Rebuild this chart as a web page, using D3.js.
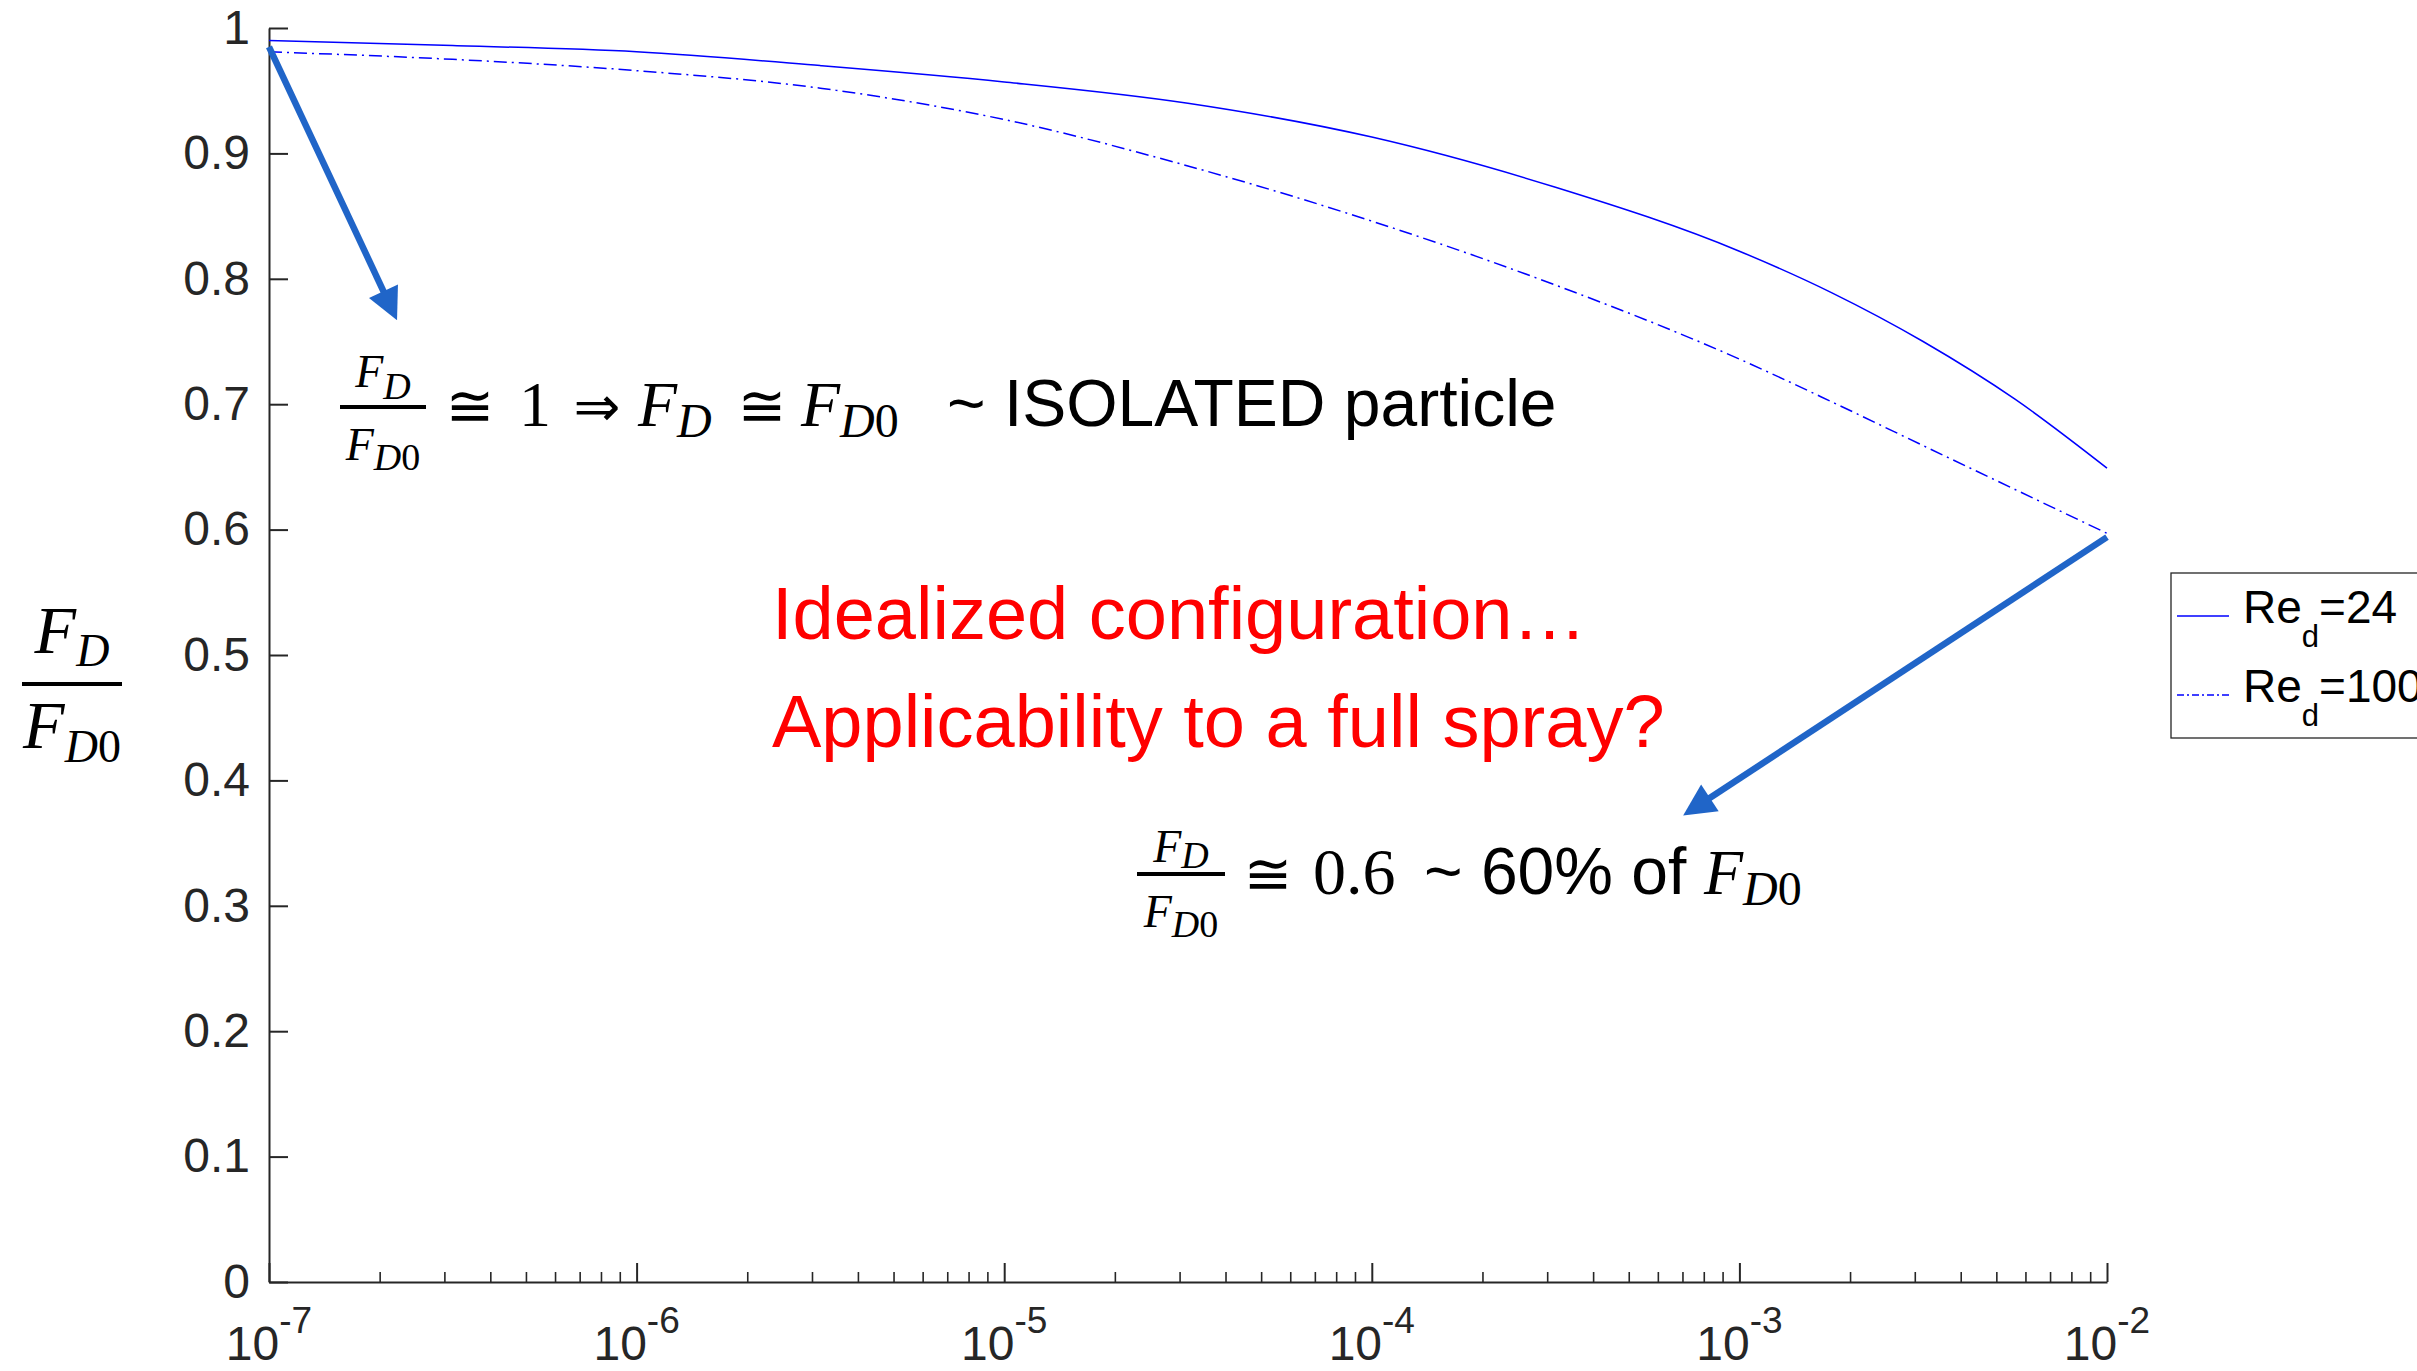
<!DOCTYPE html>
<html>
<head>
<meta charset="utf-8">
<script src="https://cdn.jsdelivr.net/npm/d3@7"></script>
<style>
  html, body { margin: 0; padding: 0; background: #ffffff; overflow: hidden; }
  svg { display: block; }
</style>
</head>
<body>
<svg id="chart" width="2417" height="1371"></svg>
<script>
// ---- data -------------------------------------------------------------
// volume fraction (x) and drag ratio F_D / F_D0 for two droplet Reynolds numbers
const volumeFraction = [1e-7, 3.16e-7, 1e-6, 3.16e-6, 1e-5, 3.16e-5, 1e-4, 3.16e-4, 1e-3, 1.78e-3, 3.16e-3, 5.62e-3, 1e-2];
const dragRatioRe24  = [0.990, 0.986, 0.981, 0.970, 0.957, 0.940, 0.913, 0.873, 0.822, 0.789, 0.750, 0.704, 0.649];
const dragRatioRe100 = [0.981, 0.975, 0.966, 0.952, 0.927, 0.890, 0.846, 0.795, 0.736, 0.702, 0.667, 0.632, 0.597];
const seriesLabels = ["24", "100"];

const yTickValues = [0, 0.1, 0.2, 0.3, 0.4, 0.5, 0.6, 0.7, 0.8, 0.9, 1];
const yTickLabels = ["0", "0.1", "0.2", "0.3", "0.4", "0.5", "0.6", "0.7", "0.8", "0.9", "1"];
const xDecades = [1e-7, 1e-6, 1e-5, 1e-4, 1e-3, 1e-2];
const xDecadeExponents = ["-7", "-6", "-5", "-4", "-3", "-2"];

// annotation arrows: [start, tip] in data coordinates
const arrowStarts = [[1e-7, 0.985], [1e-2, 0.594]];
const arrowTips   = [[2.23e-7, 0.767], [7.03e-4, 0.372]];

// ---- setup ------------------------------------------------------------
const svg = d3.select("#chart");
const axisColor = "#262626";
const lineBlue = "#0000ff";
const arrowBlue = "#2065c8";
const sans = "'Liberation Sans', Arial, sans-serif";
const serif = "'Liberation Serif', 'Times New Roman', serif";
const symbolFont = "'DejaVu Sans', sans-serif";

const x = d3.scaleLog().domain([1e-7, 1e-2]).range([269, 2107]);
const y = d3.scaleLinear().domain([0, 1]).range([1282, 28]);

// ---- axes ---------------------------------------------------------------
const yAxis = svg.append("g")
  .attr("transform", `translate(${x.range()[0]},0)`)
  .call(d3.axisLeft(y).tickValues(yTickValues)
    .tickFormat((d, i) => yTickLabels[i])
    .tickSizeInner(-19).tickSizeOuter(0).tickPadding(19));
yAxis.attr("font-family", sans).attr("font-size", 48);
yAxis.select(".domain").attr("stroke", axisColor).attr("stroke-width", 2);
yAxis.selectAll(".tick line").attr("stroke", axisColor).attr("stroke-width", 2);
yAxis.selectAll(".tick text").attr("fill", axisColor);

const minorTicks = [];
xDecades.slice(0, -1).forEach(d => { for (let k = 2; k <= 9; k++) minorTicks.push(d * k); });

const xMinor = svg.append("g")
  .attr("transform", `translate(0,${y.range()[0]})`)
  .call(d3.axisBottom(x).tickValues(minorTicks).tickFormat("")
    .tickSizeInner(-10).tickSizeOuter(0));
xMinor.select(".domain").remove();
xMinor.selectAll(".tick line").attr("stroke", axisColor).attr("stroke-width", 1.6);

const xAxis = svg.append("g")
  .attr("transform", `translate(0,${y.range()[0]})`)
  .call(d3.axisBottom(x).tickValues(xDecades).tickFormat("")
    .tickSizeInner(-19).tickSizeOuter(0));
xAxis.select(".domain").attr("stroke", axisColor).attr("stroke-width", 2);
xAxis.selectAll(".tick line").attr("stroke", axisColor).attr("stroke-width", 2);
xAxis.selectAll(".tick text").remove();

// power-of-ten labels: 10 with a raised exponent
const xLabels = svg.append("g").attr("font-family", sans).attr("fill", axisColor);
xDecades.forEach((d, i) => {
  const t = xLabels.append("text")
    .attr("x", x(d)).attr("y", y.range()[0] + 78)
    .attr("text-anchor", "middle");
  t.append("tspan").attr("font-size", 48).text("10");
  t.append("tspan").attr("font-size", 37).attr("dy", -27).text(xDecadeExponents[i]);
});

// ---- curves -----------------------------------------------------------
const line = d3.line()
  .x(d => x(d[0])).y(d => y(d[1]))
  .curve(d3.curveMonotoneX);

const seriesData = [dragRatioRe24, dragRatioRe100].map(vals => volumeFraction.map((v, i) => [v, vals[i]]));
const dashes = [null, "13,5,2,5"];

svg.append("g").selectAll("path")
  .data(seriesData)
  .join("path")
  .attr("d", line)
  .attr("fill", "none")
  .attr("stroke", lineBlue)
  .attr("stroke-width", 1.5)
  .attr("stroke-dasharray", (d, i) => dashes[i]);

// ---- math helpers --------------------------------------------------------
// F_D over F_D0 drawn as a stacked fraction
function dragFraction(cx, barY, barW, o) {
  const g = svg.append("g").attr("font-family", serif).attr("fill", "#000");
  g.append("rect").attr("x", cx - barW / 2).attr("y", barY - o.bar / 2)
    .attr("width", barW).attr("height", o.bar).attr("fill", "#000");
  const num = g.append("text").attr("x", cx).attr("y", barY - o.numUp).attr("text-anchor", "middle");
  num.append("tspan").attr("font-style", "italic").attr("font-size", o.big).text("F");
  num.append("tspan").attr("font-style", "italic").attr("font-size", o.sub).attr("dy", o.numShift).text("D");
  const den = g.append("text").attr("x", cx).attr("y", barY + o.denDown).attr("text-anchor", "middle");
  den.append("tspan").attr("font-style", "italic").attr("font-size", o.big).text("F");
  den.append("tspan").attr("font-style", "italic").attr("font-size", o.sub).attr("dy", o.denShift).text("D");
  den.append("tspan").attr("font-size", o.sub).text("0");
}

// italic F with a subscript written at a given start position
function forceSymbol(x0, baseY, size, subSize, shift, withZero) {
  const t = svg.append("text").attr("x", x0).attr("y", baseY).attr("font-family", serif).attr("fill", "#000");
  t.append("tspan").attr("font-style", "italic").attr("font-size", size).text("F");
  t.append("tspan").attr("font-style", "italic").attr("font-size", subSize).attr("dy", shift).text("D");
  if (withZero) t.append("tspan").attr("font-size", subSize).text("0");
}

function plainText(x0, baseY, str, size, family, anchor, fill) {
  svg.append("text").attr("x", x0).attr("y", baseY)
    .attr("font-family", family).attr("font-size", size)
    .attr("text-anchor", anchor || "start").attr("fill", fill || "#000")
    .text(str);
}

// ---- y-axis title --------------------------------------------------------
dragFraction(72, 684, 100, { bar: 4, big: 68, sub: 46, numUp: 31, numShift: 13, denDown: 64, denShift: 14 });

// ---- annotation: isolated particle ---------------------------------------
dragFraction(383, 407, 86, { bar: 4, big: 46, sub: 38, numUp: 20, numShift: 12, denDown: 53, denShift: 10 });
plainText(470, 426, "\u2245", 58, symbolFont, "middle");
plainText(535, 426, "1", 64, serif, "middle");
plainText(597, 426, "\u21D2", 56, symbolFont, "middle");
forceSymbol(638, 426, 64, 48, 11, false);
plainText(762, 426, "\u2245", 58, symbolFont, "middle");
forceSymbol(801, 426, 64, 48, 11, true);
plainText(947, 426, "~ ISOLATED particle", 66, sans);

// ---- annotation: dense case ------------------------------------------------
dragFraction(1181, 874, 88, { bar: 4, big: 46, sub: 38, numUp: 12, numShift: 6, denDown: 53, denShift: 10 });
plainText(1268, 894, "\u2245", 58, symbolFont, "middle");
plainText(1313, 894, "0.6", 66, serif);
plainText(1424, 894, "~ 60% of", 66, sans);
forceSymbol(1704, 894, 64, 48, 11, true);

// ---- red remarks -------------------------------------------------------------
plainText(772, 639, "Idealized configuration\u2026", 74, sans, "start", "#ff0000");
plainText(772, 747, "Applicability to a full spray?", 74, sans, "start", "#ff0000");

// ---- arrows --------------------------------------------------------------------
const arrowG = svg.append("g");
arrowStarts.forEach((s, i) => {
  const x0 = x(s[0]), y0 = y(s[1]);
  const x1 = x(arrowTips[i][0]), y1 = y(arrowTips[i][1]);
  const len = Math.hypot(x1 - x0, y1 - y0);
  const ux = (x1 - x0) / len, uy = (y1 - y0) / len;
  const headLen = 32, headHalf = 16;
  const bx = x1 - ux * headLen, by = y1 - uy * headLen;
  arrowG.append("line")
    .attr("x1", x0).attr("y1", y0)
    .attr("x2", bx + ux * 2).attr("y2", by + uy * 2)
    .attr("stroke", arrowBlue).attr("stroke-width", 6.5);
  arrowG.append("path")
    .attr("d", `M${x1},${y1}L${bx - uy * headHalf},${by + ux * headHalf}L${bx + uy * headHalf},${by - ux * headHalf}Z`)
    .attr("fill", arrowBlue);
});

// ---- legend ----------------------------------------------------------------------
const legend = svg.append("g").attr("transform", "translate(2171,573)");
legend.append("rect").attr("x", 0).attr("y", 0).attr("width", 400).attr("height", 165)
  .attr("fill", "#ffffff").attr("stroke", axisColor).attr("stroke-width", 1.3);
seriesLabels.forEach((lab, i) => {
  const ly = 43 + i * 79;
  legend.append("line").attr("x1", 6).attr("x2", 58).attr("y1", ly).attr("y2", ly)
    .attr("stroke", lineBlue).attr("stroke-width", 1.3)
    .attr("stroke-dasharray", i === 1 ? "7,3,2,3" : null);
  const t = legend.append("text").attr("x", 72).attr("y", ly + 7)
    .attr("font-family", sans).attr("fill", "#000");
  t.append("tspan").attr("font-size", 46).text("Re");
  t.append("tspan").attr("font-size", 31).attr("dy", 24).text("d");
  t.append("tspan").attr("font-size", 46).attr("dy", -24).text("=" + lab);
});
</script>
</body>
</html>
